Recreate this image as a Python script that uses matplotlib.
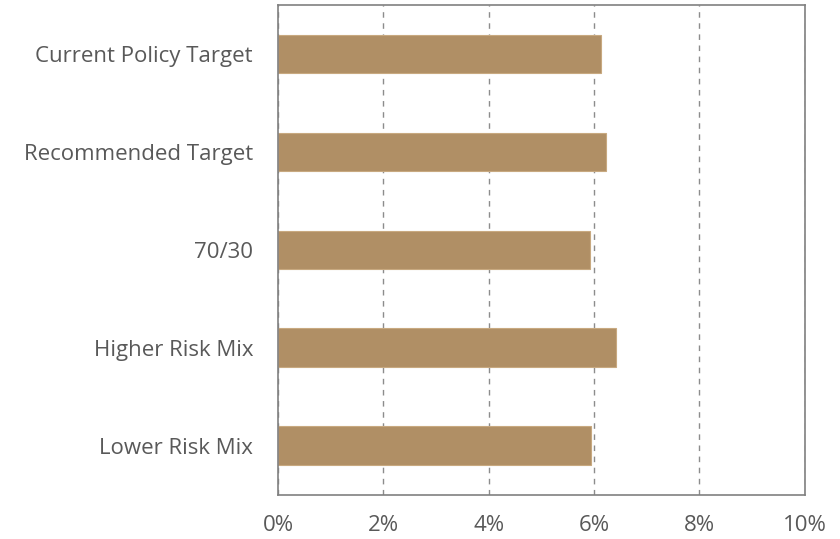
import matplotlib.pyplot as plt
from matplotlib.ticker import FuncFormatter

categories = ['Current Policy Target', 'Recommended Target', '70/30',
              'Higher Risk Mix', 'Lower Risk Mix']
values = [6.14, 6.22, 5.92, 6.41, 5.95]
xticks = [0, 2, 4, 6, 8, 10]

plt.rcParams['font.family'] = ['Open Sans', 'DejaVu Sans']

fig = plt.figure(figsize=(8.4, 5.39), dpi=100)
ax = fig.add_axes([0.331, 0.0824, 0.627, 0.909])
ax.set_axisbelow(True)

y = list(range(len(categories)))[::-1]
ax.barh(y, values, height=0.39, color='#B08F65', edgecolor='#C8A980', linewidth=0.8, zorder=2)

ax.set_xlim(0, 10)
ax.set_ylim(-0.5, len(categories) - 0.5)
ax.set_xticks(xticks)
ax.xaxis.set_major_formatter(FuncFormatter(lambda v, p: '%d%%' % v))
ax.set_yticks(y)
ax.set_yticklabels(categories)
ax.tick_params(length=0, labelsize=16, labelcolor='#595959')
ax.tick_params(axis='x', pad=15)
ax.tick_params(axis='y', pad=18)

ax.grid(axis='x', color='#8c8c8c', linestyle=(0, (4, 4)), linewidth=1)
for s in ax.spines.values():
    s.set_color('#808080')
    s.set_linewidth(1.2)
    s.set_zorder(3)

fig.savefig('out.png', dpi=100)
